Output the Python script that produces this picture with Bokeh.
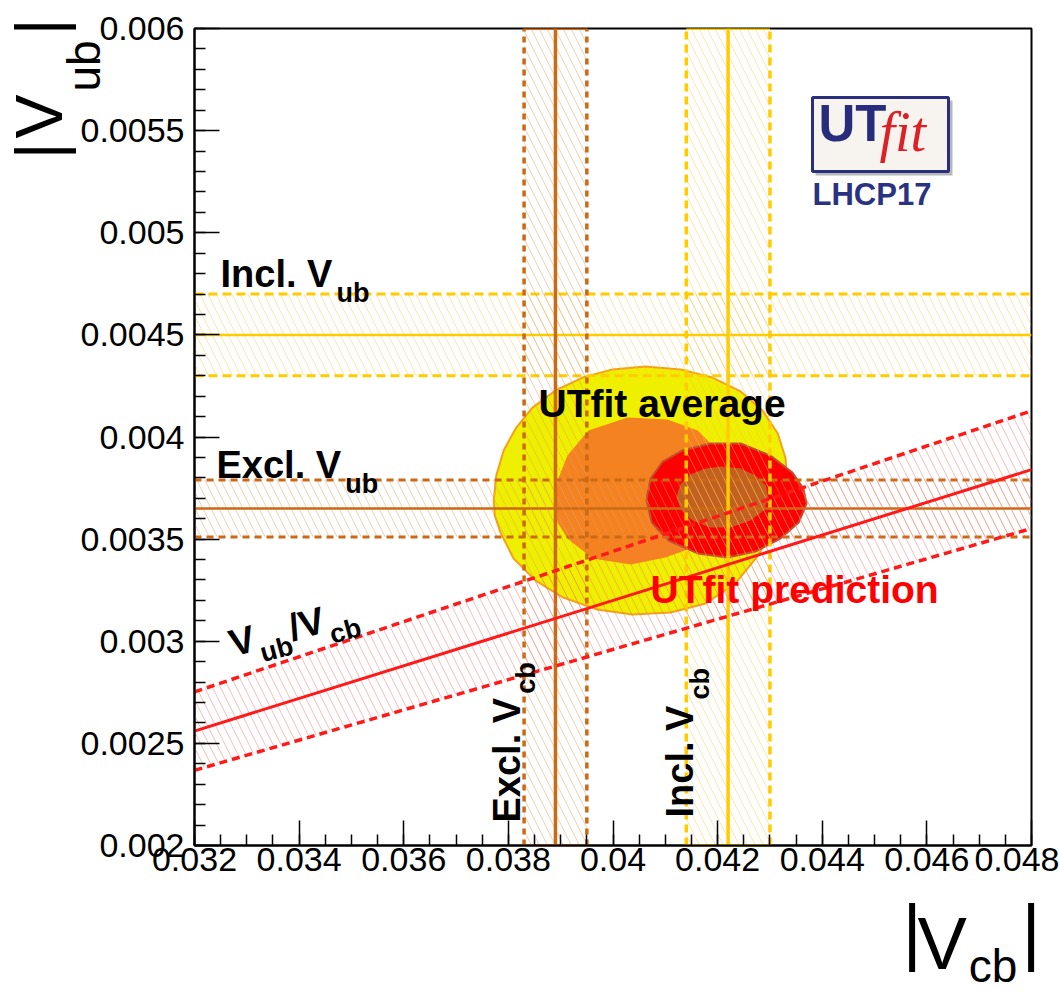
import math
from bokeh.plotting import figure
from bokeh.models import Range1d, SingleIntervalTicker, CustomJSTickFormatter
from bokeh.core.properties import value
from bokeh.embed import file_html
from bokeh.resources import INLINE

# ---------------- data ----------------
x_range = (0.032, 0.048)
y_range = (0.002, 0.006)

excl_vcb, excl_vcb_err = 0.0389, 0.0006
incl_vcb, incl_vcb_err = 0.0422, 0.0008
incl_vub, incl_vub_err = 0.0045, 0.0002
excl_vub, excl_vub_err = 0.00365, 0.00014
ratio, ratio_lo, ratio_hi = 0.080, 0.074, 0.086

# UTfit average (95% / 68%) and UTfit prediction (95% / 68%) contours
avg95_x = [0.03772, 0.03777, 0.03791, 0.03814, 0.03846, 0.03890, 0.03942, 0.03999, 0.04062, 0.04129,
           0.04190, 0.04244, 0.04286, 0.04315, 0.04330, 0.04332, 0.04322, 0.04305, 0.04276, 0.04234,
           0.04177, 0.04110, 0.04037, 0.03970, 0.03905, 0.03852, 0.03810, 0.03785, 0.03774]
avg95_y = [0.003689, 0.003812, 0.003934, 0.004042, 0.004144, 0.004228, 0.004291, 0.004331, 0.004345, 0.004331,
           0.004291, 0.004223, 0.004130, 0.004017, 0.003895, 0.003787, 0.003665, 0.003542, 0.003415, 0.003283,
           0.003185, 0.003141, 0.003131, 0.003155, 0.003214, 0.003297, 0.003405, 0.003532, 0.003616]
avg68_x = [0.03890, 0.03894, 0.03913, 0.03953, 0.04028, 0.04104, 0.04162, 0.04196, 0.04213, 0.04213,
           0.04190, 0.04148, 0.04100, 0.04034, 0.03961, 0.03913, 0.03894]
avg68_y = [0.003650, 0.003787, 0.003909, 0.004032, 0.004096, 0.004086, 0.004032, 0.003944, 0.003826, 0.003689,
           0.003552, 0.003454, 0.003410, 0.003376, 0.003405, 0.003503, 0.003581]
pred95_x = [0.04064, 0.04072, 0.04095, 0.04133, 0.04186, 0.04244, 0.04301, 0.04343, 0.04364, 0.04370,
            0.04355, 0.04320, 0.04272, 0.04219, 0.04162, 0.04106, 0.04074]
pred95_y = [0.003694, 0.003797, 0.003880, 0.003934, 0.003968, 0.003968, 0.003909, 0.003826, 0.003748, 0.003674,
            0.003581, 0.003503, 0.003439, 0.003410, 0.003430, 0.003493, 0.003581]
pred68_x = [0.04121, 0.04129, 0.04148, 0.04177, 0.04209, 0.04244, 0.04272, 0.04292, 0.04297, 0.04288,
            0.04263, 0.04225, 0.04186, 0.04152, 0.04131]
pred68_y = [0.003704, 0.003767, 0.003816, 0.003846, 0.003856, 0.003846, 0.003812, 0.003762, 0.003704, 0.003640,
            0.003591, 0.003557, 0.003557, 0.003591, 0.003640]

# ---------------- layout / style ----------------
W, H = 1059, 994
FL, FR, FT, FB = 194, 28, 28, 149
FW, FH = W - FL - FR, H - FT - FB

C_EXCL = "#cc6914"
C_INCL = "#ffcc00"
C_RED = "#ff1a1a"
FONT = "Liberation Sans"
BASELINE_FIX = 0.36   # Bokeh's alphabetic anchor sits ~0.36 em above the drawn baseline

p = figure(frame_width=FW, frame_height=FH,
           x_range=Range1d(*x_range), y_range=Range1d(*y_range),
           output_backend="svg", toolbar_location=None,
           min_border_left=FL, min_border_right=FR, min_border_top=FT, min_border_bottom=FB)
p.xgrid.visible = False
p.ygrid.visible = False
p.outline_line_color = "black"
p.outline_line_width = 2
p.background_fill_color = "white"
p.border_fill_color = "white"

p.xaxis.ticker = SingleIntervalTicker(interval=0.002, num_minor_ticks=4)
p.yaxis.ticker = SingleIntervalTicker(interval=0.0005, num_minor_ticks=5)
fmt = CustomJSTickFormatter(code="return String(parseFloat(tick.toPrecision(6)));")
for ax in (p.xaxis[0], p.yaxis[0]):
    ax.formatter = fmt
    ax.major_tick_in = 25
    ax.major_tick_out = 0
    ax.minor_tick_in = 11
    ax.minor_tick_out = 0
    ax.axis_line_color = "black"
    ax.axis_line_width = 2
    ax.major_tick_line_color = "black"
    ax.major_tick_line_width = 1.5
    ax.minor_tick_line_color = "black"
    ax.minor_tick_line_width = 1.5
    ax.major_label_text_font = FONT
    ax.major_label_text_font_size = "34px"
    ax.major_label_text_color = "black"
p.xaxis.major_label_standoff = 2
p.yaxis.major_label_standoff = 10

xmin, xmax = x_range
ymin, ymax = y_range

# ---------------- contours ----------------
p.patch(avg95_x, avg95_y, fill_color="#efef00", line_color="#f5a01a", line_width=2)
p.patch(avg68_x, avg68_y, fill_color="#f58220", line_color=None)
p.patch(pred95_x, pred95_y, fill_color="#ff0000", line_color="#c0502e", line_width=2)
p.patch(pred68_x, pred68_y, fill_color="#c2611f", line_color=None)

HATCH = dict(hatch_pattern="\\", hatch_alpha=0.45, hatch_scale=16, hatch_weight=1)


# ---------------- bands ----------------
def vband(c, e, col, hcol, dash):
    p.quad(left=[c - e], right=[c + e], bottom=[ymin], top=[ymax], fill_color=None, line_color=None,
           hatch_color=hcol, **HATCH)
    p.segment(x0=[c - e, c + e], y0=[ymin, ymin], x1=[c - e, c + e], y1=[ymax, ymax],
              line_color=col, line_width=3.5, line_dash=dash)
    p.segment(x0=[c - e, c - e], y0=[ymin, ymax], x1=[c + e, c + e], y1=[ymin, ymax],
              line_color=col, line_width=3)
    p.segment(x0=[c], y0=[ymin], x1=[c], y1=[ymax], line_color=col, line_width=3.5)


def hband(c, e, col, hcol, dash):
    p.quad(left=[xmin], right=[xmax], bottom=[c - e], top=[c + e], fill_color=None, line_color=None,
           hatch_color=hcol, **HATCH)
    p.segment(x0=[xmin, xmin], y0=[c - e, c + e], x1=[xmax, xmax], y1=[c - e, c + e],
              line_color=col, line_width=3, line_dash=dash)
    p.segment(x0=[xmin], y0=[c], x1=[xmax], y1=[c], line_color=col, line_width=2.5)


hband(incl_vub, incl_vub_err, C_INCL, "#ffc640", "9 5")
hband(excl_vub, excl_vub_err, C_EXCL, "#e69a5a", "7 5")
vband(excl_vcb, excl_vcb_err, C_EXCL, "#e69a5a", "6 5")
vband(incl_vcb, incl_vcb_err, C_INCL, "#ffc640", "8 5")

rx = [xmin, xmax, xmax, xmin]
ry = [ratio_hi * xmin, ratio_hi * xmax, ratio_lo * xmax, ratio_lo * xmin]
p.patch(rx, ry, fill_color=None, line_color=None, hatch_color="#ff6a6a", **HATCH)
p.line([xmin, xmax], [ratio_hi * xmin, ratio_hi * xmax], line_color=C_RED, line_width=3.5, line_dash="8 5")
p.line([xmin, xmax], [ratio_lo * xmin, ratio_lo * xmax], line_color=C_RED, line_width=3.5, line_dash="8 5")
p.line([xmin, xmax], [ratio * xmin, ratio * xmax], line_color=C_RED, line_width=3)


# ---------------- text helpers ----------------
def dx(px):
    return xmin + (px - FL) * (xmax - xmin) / FW


def dy(py):
    return ymax - (py - FT) * (ymax - ymin) / FH


W_BOLD = {" ": .278, ".": .278, "/": .278, "E": .667, "x": .556, "c": .556, "l": .278, "I": .278,
          "n": .611, "V": .667, "u": .611, "b": .611, "U": .722, "T": .611, "f": .333, "i": .278,
          "t": .333, "a": .556, "v": .556, "e": .556, "r": .389, "g": .611, "p": .611, "d": .611, "o": .611}
W_REG = {"|": .260, "V": .667, "c": .500, "b": .556, "u": .556}


def put_text(sx, sy, text, size, angle=0.0, color="black", style="bold", font=FONT):
    a = math.radians(angle)
    sx -= BASELINE_FIX * size * math.sin(a)
    sy -= BASELINE_FIX * size * math.cos(a)
    p.text(x=[dx(sx)], y=[dy(sy)], text=[text], angle=angle, angle_units="deg",
           text_font=value(font), text_font_size=value(f"{size}px"), text_font_style=style,
           text_color=color, text_align="left", text_baseline="alphabetic", level="overlay")


def rich(px, py, pieces, angle=0.0, color="black", bold=True, font=FONT):
    a = math.radians(angle)
    ux, uy = math.cos(a), -math.sin(a)
    nx, ny = math.sin(a), math.cos(a)
    adv = 0.0
    table = W_BOLD if bold else W_REG
    style = "bold" if bold else "normal"
    for text, size, drop, gap in pieces:
        adv += gap
        sx = px + adv * ux + drop * nx
        sy = py + adv * uy + drop * ny
        put_text(sx, sy, text, size, angle, color, style, font)
        adv += sum(table.get(ch, 0.556) for ch in text) * size


# band labels
rich(220, 287, [("Incl. V", 38, 0, 0), ("ub", 27, 15, 4)])
rich(216, 478, [("Excl. V", 38, 0, 0), ("ub", 27, 15, 4)])
rich(520, 822, [("Excl. V", 38, 0, 0), ("cb", 27, 15, 4)], angle=90)
rich(693, 817, [("Incl. V", 38, 0, 0), ("cb", 27, 16, 6)], angle=90)
rich(233, 657, [("V", 38, 0, 0), ("ub", 27, 13, 2), ("/", 38, 0, 1), ("V", 38, 0, 0), ("cb", 27, 13, 2)],
     angle=15)
rich(538, 417, [("UTfit average", 39, 0, 0)])
rich(650, 603, [("UTfit prediction", 39, 0, 0)], color="#ff0000")

# axis titles
rich(902, 958, [("|", 74, 0, 0)], bold=False)
rich(917, 970, [("V", 74, 0, 0), ("cb", 46, 12, 2)], bold=False)
rich(1021, 958, [("|", 74, 0, 0)], bold=False)
rich(62, 159, [("|", 66, 0, 0)], angle=90, bold=False)
rich(62, 138, [("V", 66, 0, 0), ("ub", 46, 38, 3)], angle=90, bold=False)
rich(62, 35, [("|", 66, 0, 0)], angle=90, bold=False)

# logo
p.quad(left=[dx(815)], right=[dx(952)], bottom=[dy(175)], top=[dy(100)], fill_color="#b8b8b8", line_color=None)
p.quad(left=[dx(812)], right=[dx(948)], bottom=[dy(171)], top=[dy(97)], fill_color="#f7f3ef",
       line_color="#2a2f7d", line_width=3)
put_text(818, 141, "UT", 51, color="#272c7c")
put_text(879, 152, "fit", 56, color="#dd1f26", style="italic", font="Liberation Serif")
put_text(812, 205, "LHCP17", 31, color="#2a3282")

open("out.html", "w").write(file_html(p, INLINE))
